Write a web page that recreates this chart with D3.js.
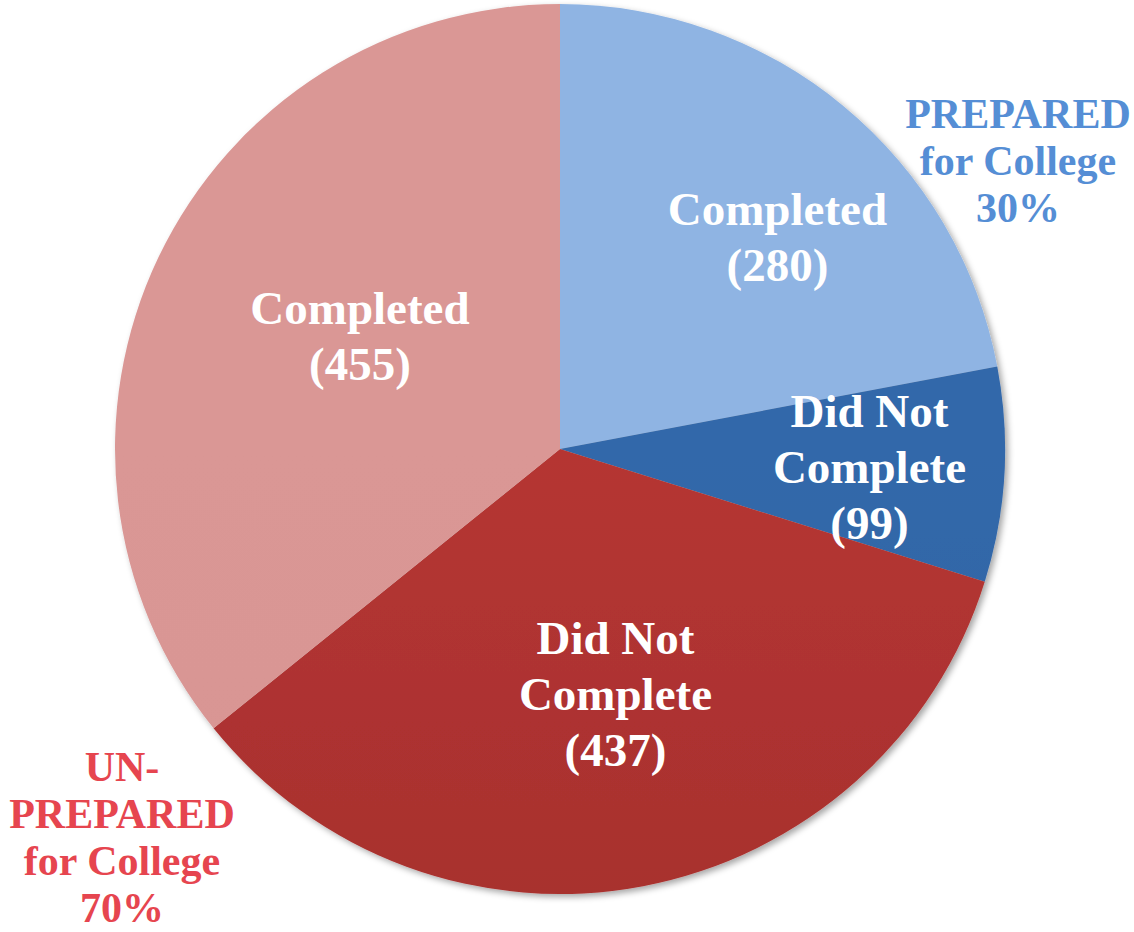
<!DOCTYPE html>
<html>
<head>
<meta charset="utf-8">
<script src="https://cdn.jsdelivr.net/npm/d3@7"></script>
<style>
  body { margin: 0; background: #fff; }
  text { font-family: "Liberation Serif", "Times New Roman", serif; font-weight: bold; }
</style>
</head>
<body>
<div id="chart"></div>
<script>
// slice data, clockwise from 12 o'clock
var sliceNames = ["Completed", "Did Not Complete", "Did Not Complete", "Completed"];
var sliceValues = [280, 99, 437, 455];
var sliceGroups = ["prepared", "prepared", "unprepared", "unprepared"];

// group labels
var groupLabels = {
    prepared: ["PREPARED", "for College", "30%"],
    unprepared: ["UN-", "PREPARED", "for College", "70%"]
};

var svgWidth = 1134;
var svgHeight = 932;
var cx = 560, cy = 449, radius = 445;

// fill colours (top, bottom of gradient)
var fills = [
    ["#8fb4e3", "#8db2e0"],
    ["#3368aa", "#2c5d9c"],
    ["#b53633", "#9b2a29"],
    ["#da9795", "#d69391"]
];

// label tweaks: radius from centre and angle nudge (deg)
var labelPos = [
    {r: 304, da: 6},
    {r: 310, da: 0},
    {r: 251, da: -2},
    {r: 230, da: 4}
];

var svg = d3.select("#chart").append("svg")
    .attr("width", svgWidth)
    .attr("height", svgHeight);

var defs = svg.append("defs");

var shadow = defs.append("filter")
    .attr("id", "shadow")
    .attr("x", "-10%").attr("y", "-10%")
    .attr("width", "120%").attr("height", "120%");
shadow.append("feDropShadow")
    .attr("dx", 3).attr("dy", 3)
    .attr("stdDeviation", 3)
    .attr("flood-color", "#000")
    .attr("flood-opacity", 0.35);

fills.forEach(function(f, i) {
    var g = defs.append("linearGradient")
        .attr("id", "grad" + i)
        .attr("gradientUnits", "userSpaceOnUse")
        .attr("x1", 0).attr("y1", cy - radius)
        .attr("x2", 0).attr("y2", cy + radius);
    g.append("stop").attr("offset", "0%").attr("stop-color", f[0]);
    g.append("stop").attr("offset", "100%").attr("stop-color", f[1]);
});

var pie = d3.pie()
    .sort(null)
    .value(d => d);

var arc = d3.arc()
    .innerRadius(0)
    .outerRadius(radius);

var arcs = pie(sliceValues);

var chartGroup = svg.append("g")
    .attr("transform", `translate(${cx}, ${cy})`);

chartGroup.append("g")
    .attr("filter", "url(#shadow)")
    .selectAll("path")
    .data(arcs)
    .enter()
    .append("path")
    .attr("d", arc)
    .attr("fill", (d, i) => `url(#grad${i})`);

// inside labels
var lineH = 56;
arcs.forEach(function(d, i) {
    var mid = (d.startAngle + d.endAngle) / 2 + labelPos[i].da * Math.PI / 180;
    var x = labelPos[i].r * Math.sin(mid);
    var y = -labelPos[i].r * Math.cos(mid);
    var lines = sliceNames[i] === "Did Not Complete"
        ? ["Did Not", "Complete", "(" + sliceValues[i] + ")"]
        : [sliceNames[i], "(" + sliceValues[i] + ")"];
    var t = chartGroup.append("text")
        .attr("text-anchor", "middle")
        .attr("fill", "#fff")
        .attr("font-size", "47px");
    var y0 = y - (lines.length - 1) * lineH / 2;
    lines.forEach(function(l, j) {
        t.append("tspan")
            .attr("x", x)
            .attr("y", y0 + j * lineH)
            .attr("dy", "0.35em")
            .text(l);
    });
});

// outside group labels
function groupLabel(lines, x, yTop, color) {
    var t = svg.append("text")
        .attr("text-anchor", "middle")
        .attr("fill", color)
        .attr("font-size", "42px");
    lines.forEach(function(l, j) {
        t.append("tspan")
            .attr("x", x)
            .attr("y", yTop + j * 47)
            .attr("dy", "0.35em")
            .text(l);
    });
}

groupLabel(groupLabels.prepared, 1018, 113, "#558ed5");
groupLabel(groupLabels.unprepared, 122, 766, "#e6454f");
</script>
</body>
</html>
